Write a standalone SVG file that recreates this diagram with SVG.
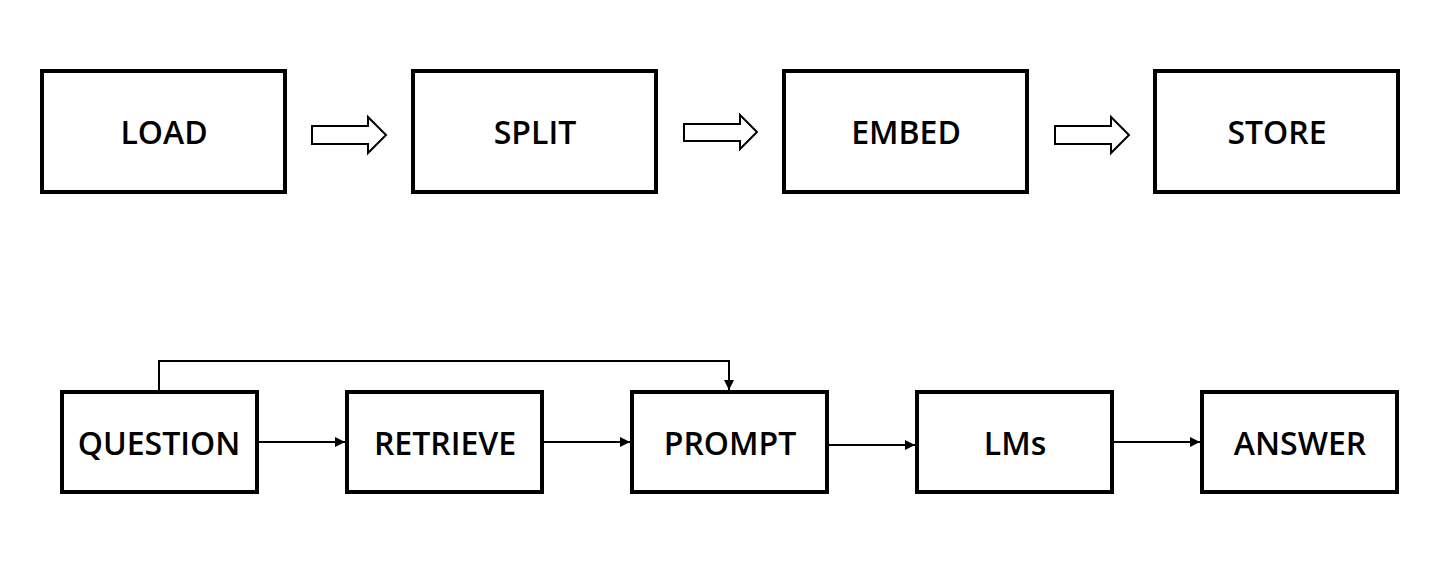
<svg xmlns="http://www.w3.org/2000/svg" width="1445" height="573" viewBox="0 0 1445 573">
<defs>
<style>
.box{fill:#fff;stroke:#000;stroke-width:4}
.lbl{font-family:"Open Sans","Noto Sans",sans-serif;font-weight:600;font-size:32px;fill:#000;text-anchor:middle}
.big{fill:#fff;stroke:#000;stroke-width:2;stroke-linejoin:miter}
.con{fill:none;stroke:#000;stroke-width:2}
</style>
<marker id="ah" viewBox="0 0 10 10" refX="10" refY="5" markerWidth="10" markerHeight="10" markerUnits="userSpaceOnUse" orient="auto">
<path d="M0,0 L10,5 L0,10 Z" fill="#000"/>
</marker>
</defs>
<rect width="1445" height="573" fill="#fff"/>
<g id="load"><rect class="box" x="42" y="71" width="243" height="121"/><text class="lbl" x="164" y="144">LOAD</text></g>
<g id="split"><rect class="box" x="413" y="71" width="243" height="121"/><text class="lbl" x="535" y="144">SPLIT</text></g>
<g id="embed"><rect class="box" x="784" y="71" width="243" height="121"/><text class="lbl" x="906" y="144">EMBED</text></g>
<g id="store"><rect class="box" x="1155" y="71" width="243" height="121"/><text class="lbl" x="1277" y="144">STORE</text></g>
<g id="question"><rect class="box" x="62" y="392" width="195" height="100"/><text class="lbl" x="159" y="455">QUESTION</text></g>
<g id="retrieve"><rect class="box" x="347" y="392" width="195" height="100"/><text class="lbl" x="445" y="455">RETRIEVE</text></g>
<g id="prompt"><rect class="box" x="632" y="392" width="195" height="100"/><text class="lbl" x="730" y="455">PROMPT</text></g>
<g id="lms"><rect class="box" x="917" y="392" width="195" height="100"/><text class="lbl" x="1015" y="455">LMs</text></g>
<g id="answer"><rect class="box" x="1202" y="392" width="195" height="100"/><text class="lbl" x="1300" y="455">ANSWER</text></g>
<g id="connectors">
<path class="big" d="M312,126 H368 V117 L386,135 L368,153 V144 H312 Z"/>
<path class="big" d="M684,124 H740 V115 L757,132 L740,149 V141 H684 Z"/>
<path class="big" d="M1055,126 H1111 V117 L1129,135 L1111,153 V144 H1055 Z"/>
<path class="con" d="M159,390 V361 H729 V390" marker-end="url(#ah)"/>
<path class="con" d="M259,442 H345" marker-end="url(#ah)"/>
<path class="con" d="M544,442 H630" marker-end="url(#ah)"/>
<path class="con" d="M829,445 H915" marker-end="url(#ah)"/>
<path class="con" d="M1114,442 H1200" marker-end="url(#ah)"/>
</g>
</svg>
